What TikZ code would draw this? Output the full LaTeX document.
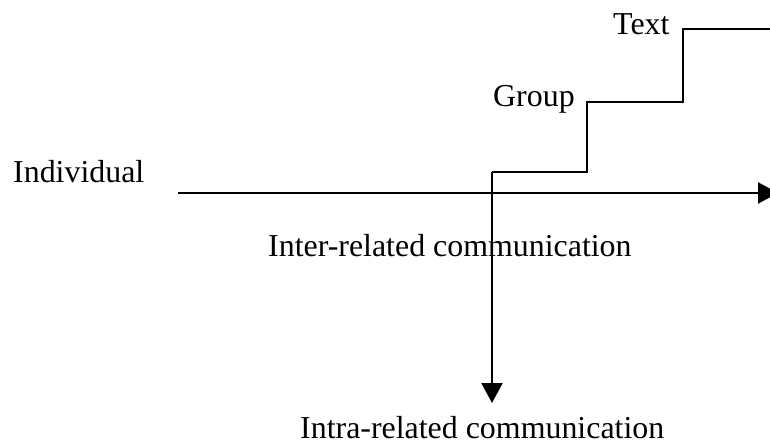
\documentclass[tikz,border=0pt]{standalone}
\usepackage{fontspec}
\setmainfont{Liberation Serif}
\usetikzlibrary{arrows.meta}
\begin{document}
\begin{tikzpicture}[x=1pt,y=-1pt,
  lbl/.style={inner sep=0pt,anchor=base west,font=\fontsize{31.9}{38}\selectfont},
  axis/.style={line width=2.2pt,-{Triangle[length=20pt,width=21pt]}},
  stair/.style={line width=2.2pt}]
\clip (0,0) rectangle (770,443);
\fill[white] (0,0) rectangle (770,443);
\node[lbl] (ind) at (13,183) {Individual};
\node[lbl] (grp) at (493,107) {Group};
\node[lbl] (txt) at (613,35) {Text};
\node[lbl] (inter) at (268,257) {Inter-related communication};
\node[lbl] (intra) at (300,438) {Intra-related communication};
\coordinate (hs) at (178,193);
\coordinate (he) at (778,193);
\coordinate (vs) at (492,172);
\coordinate (ve) at (492,403);
\coordinate (s1) at (587,172);
\coordinate (s2) at (587,102);
\coordinate (s3) at (683,102);
\coordinate (s4) at (683,29);
\coordinate (s5) at (775,29);
\draw[axis] (hs) -- (he);
\draw[axis] (vs) -- (ve);
\draw[stair] (vs) -- (s1) -- (s2) -- (s3) -- (s4) -- (s5);
\end{tikzpicture}
\end{document}
